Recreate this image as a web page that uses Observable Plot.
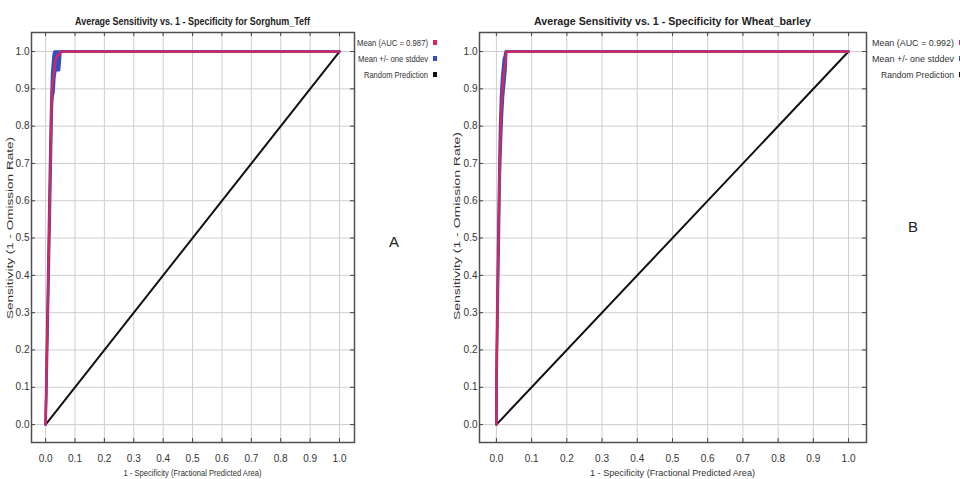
<!DOCTYPE html>
<html><head><meta charset="utf-8">
<script src="https://cdn.jsdelivr.net/npm/d3@7"></script>
<script src="https://cdn.jsdelivr.net/npm/@observablehq/plot@0.6"></script>
<style>
body{margin:0;background:#fff;width:960px;height:479px;overflow:hidden;position:relative;font-family:"Liberation Sans",Arial,sans-serif}
#a{position:absolute;left:0;top:0}
#b{position:absolute;left:450px;top:0}
.lab{position:absolute;font-size:15px;color:#222;font-family:"Liberation Sans",Arial,sans-serif}
</style></head><body>
<div id="a"></div><div id="b"></div>
<div class="lab" style="left:389px;top:233px">A</div>
<div class="lab" style="left:908px;top:218px">B</div>
<script>
// tick values
const tickValues = [0, 0.1, 0.2, 0.3, 0.4, 0.5, 0.6, 0.7, 0.8, 0.9, 1.0];

// Panel A: Sorghum_Teff
const titleA = "Average Sensitivity vs. 1 - Specificity for Sorghum_Teff";
const aucA = "Mean (AUC = 0.987)";
const fprA   = [0, 0.004, 0.008, 0.011, 0.014, 0.017, 0.020, 0.022, 0.024, 0.027, 0.030, 0.034, 0.040, 0.046, 0.051, 1.0];
const meanA  = [0, 0.17, 0.34, 0.47, 0.60, 0.73, 0.84, 0.90, 0.92, 0.93, 0.95, 0.98, 0.99, 0.99, 1.0, 1.0];
const upperA = [0, 0.20, 0.38, 0.52, 0.66, 0.79, 0.89, 0.94, 0.96, 0.99, 1.0, 1.0, 1.0, 1.0, 1.0, 1.0];
const lowerA = [0, 0.14, 0.30, 0.42, 0.54, 0.67, 0.79, 0.86, 0.88, 0.89, 0.93, 0.95, 0.95, 0.95, 1.0, 1.0];

// Panel B: Wheat_barley
const titleB = "Average Sensitivity vs. 1 - Specificity for Wheat_barley";
const aucB = "Mean (AUC = 0.992)";
const fprB   = [0, 0.000, 0.002, 0.004, 0.006, 0.008, 0.010, 0.013, 0.016, 0.019, 0.021, 0.024, 0.026, 0.028, 1.0];
const meanB  = [0, 0.09, 0.25, 0.38, 0.50, 0.62, 0.73, 0.82, 0.88, 0.92, 0.94, 0.96, 0.97, 1.0, 1.0];
const upperB = [0, 0.11, 0.29, 0.43, 0.56, 0.68, 0.79, 0.88, 0.93, 0.96, 0.98, 0.99, 1.0, 1.0, 1.0];
const lowerB = [0, 0.07, 0.21, 0.33, 0.44, 0.56, 0.67, 0.76, 0.83, 0.88, 0.90, 0.93, 0.95, 1.0, 1.0];

// random prediction
const randomX = [0, 1];
const randomY = [0, 1];

const legendLabels = ["Mean +/- one stddev", "Random Prediction"];
const xTitle = "1 - Specificity (Fractional Predicted Area)";
const yTitle = "Sensitivity (1 - Omission Rate)";

const dom = [-0.048, 1.051];
const RED = "#dd2459", BLUE = "#2f4fc4", BLACK = "#111";

function panel(o) {
  const rows = o.fpr.map((x, i) => ({x, mean: o.mean[i], up: o.upper[i], lo: o.lower[i]}));
  const rnd = randomX.map((x, i) => ({x, y: randomY[i]}));
  const frameW = o.width - o.ml - o.mr, frameH = o.height - o.mt - o.mb;
  const tx = 4 * (dom[1] - dom[0]) / frameW, ty = 4 * (dom[1] - dom[0]) / frameH;
  const legend = [
    {label: o.auc, color: RED, len: o.legLen[0]},
    {label: legendLabels[0], color: BLUE, len: o.legLen[1]},
    {label: legendLabels[1], color: BLACK, len: o.legLen[2]}
  ];
  const fx = o.ml + frameW / 2;
  const svg = Plot.plot({
    width: o.width, height: o.height,
    marginLeft: o.ml, marginRight: o.mr, marginTop: o.mt, marginBottom: o.mb,
    style: {fontFamily: "'Liberation Sans', Arial, sans-serif", fontSize: "10px", color: "#333", background: "#fff", overflow: "visible"},
    x: {domain: dom, ticks: tickValues, tickFormat: d3.format(".1f"), tickSize: 0, tickPadding: 12, label: null},
    y: {domain: dom, ticks: tickValues, tickFormat: d3.format(".1f"), tickSize: 0, tickPadding: 2, label: null},
    marks: [
      Plot.ruleX(tickValues, {stroke: "#cfcfcf", strokeWidth: 1}),
      Plot.ruleY(tickValues, {stroke: "#cfcfcf", strokeWidth: 1}),
      Plot.line(rnd, {x: "x", y: "y", stroke: BLACK, strokeWidth: 2}),
      Plot.areaY(rows, {x: "x", y1: "lo", y2: "up", fill: BLUE, curve: "linear"}),
      Plot.line(rows, {x: "x", y: "up", stroke: BLUE, strokeWidth: 2.5}),
      Plot.line(rows, {x: "x", y: "lo", stroke: BLUE, strokeWidth: 2.5}),
      Plot.line(rows, {x: "x", y: "mean", stroke: RED, strokeWidth: 2.3}),
      Plot.frame({stroke: "#505050", strokeWidth: 1.5}),
      // inward frame ticks
      Plot.ruleX(tickValues, {y1: dom[0], y2: dom[0] + ty, stroke: "#444", strokeWidth: 1}),
      Plot.ruleX(tickValues, {y1: dom[1], y2: dom[1] - ty, stroke: "#444", strokeWidth: 1}),
      Plot.ruleY(tickValues, {x1: dom[0], x2: dom[0] + tx, stroke: "#444", strokeWidth: 1}),
      Plot.ruleY(tickValues, {x1: dom[1], x2: dom[1] - tx, stroke: "#444", strokeWidth: 1}),
      // title
      Plot.text([o.title], {frameAnchor: "top-left", text: d => d, fontWeight: "bold", fontSize: 10.5, fill: "#222", textAnchor: "middle"}),
      // axis titles
      Plot.text([xTitle], {frameAnchor: "bottom-left", text: d => d, fontSize: 9.5, fill: "#333", textAnchor: "middle"}),
      Plot.text([yTitle], {frameAnchor: "left", text: d => d, fontSize: 9.5, fill: "#333", textAnchor: "middle"}),
      // legend
      Plot.text(legend, {frameAnchor: "top-right", text: "label", fontSize: 9, fill: "#333", textAnchor: "end"}),
    ]
  });
  const s = d3.select(svg);
  const lenMap = new Map([[o.title, o.titleLen], [xTitle, o.xTitleLen], [yTitle, o.yTitleLen]]);
  legend.forEach(d => lenMap.set(d.label, d.len));
  const rowsY = [43, 59, 75];
  const place = new Map([
    [o.title, `translate(${fx},22)`],
    [xTitle, `translate(${fx},473)`],
    [yTitle, `translate(${o.yTitleX},${o.yTitleY}) rotate(-90)`]
  ]);
  legend.forEach((d, i) => place.set(d.label, `translate(${o.legEnd},${rowsY[i]})`));
  s.selectAll("text").each(function() {
    const t = this.textContent;
    if (lenMap.has(t)) {
      d3.select(this).attr("textLength", lenMap.get(t)).attr("lengthAdjust", "spacingAndGlyphs");
    }
    if (place.has(t)) {
      d3.select(this).attr("transform", place.get(t)).attr("x", null).attr("y", null).attr("dx", null).attr("dy", "0.32em");
      if (this.parentNode && this.parentNode.tagName === "g") d3.select(this.parentNode).attr("transform", null);
    }
  });
  legend.forEach((d, i) => {
    s.append("rect").attr("x", o.legEnd + 5).attr("y", rowsY[i] - 3).attr("width", 4).attr("height", 5).attr("fill", d.color);
  });
  return svg;
}

document.getElementById("a").appendChild(panel({
  title: titleA, auc: aucA, fpr: fprA, mean: meanA, upper: upperA, lower: lowerA,
  width: 480, height: 479, ml: 31, mr: 126, mt: 32, mb: 37,
  titleLen: 235, xTitleLen: 138, yTitleX: 10, yTitleY: 228, yTitleLen: 182,
  legEnd: 428, legLen: [71, 70, 64]
}));
document.getElementById("b").appendChild(panel({
  title: titleB, auc: aucB, fpr: fprB, mean: meanB, upper: upperB, lower: lowerB,
  width: 510, height: 479, ml: 29, mr: 94, mt: 32, mb: 37,
  titleLen: 277, xTitleLen: 165, yTitleX: 7, yTitleY: 226, yTitleLen: 188,
  legEnd: 504, legLen: [82, 82, 73]
}));
</script>
</body></html>
